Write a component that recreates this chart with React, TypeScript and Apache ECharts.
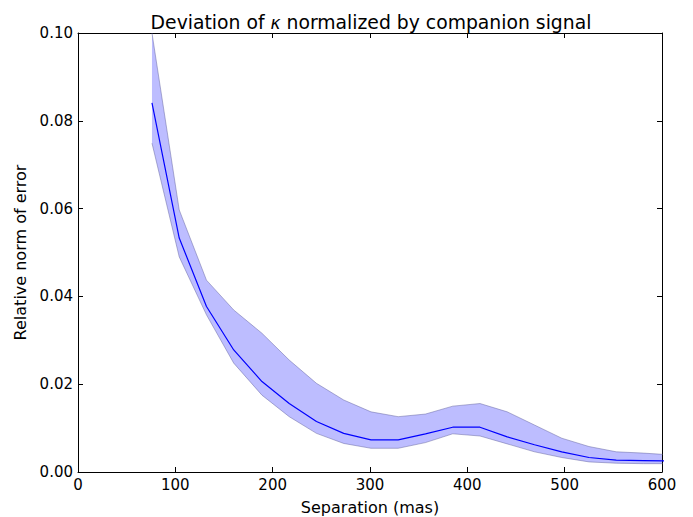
import React, { useEffect, useRef } from "react";
import * as echarts from "echarts";

const separation = [76, 104, 132, 160, 189, 217, 245, 273, 301, 329, 357, 385, 413, 441, 469, 497, 525, 553, 581, 609];
const meanError = [0.0841, 0.0533, 0.0377, 0.0278, 0.0206, 0.0156, 0.0115, 0.0088, 0.0073, 0.0073, 0.0087, 0.0102, 0.0102, 0.008, 0.0062, 0.0046, 0.0033, 0.0027, 0.0026, 0.0025];
const upperError = [0.1, 0.0597, 0.0437, 0.0369, 0.0316, 0.0255, 0.0202, 0.0164, 0.0137, 0.0126, 0.0132, 0.015, 0.0156, 0.0137, 0.0107, 0.0077, 0.0058, 0.0046, 0.0043, 0.0039];
const lowerError = [0.0749, 0.049, 0.0358, 0.0248, 0.0175, 0.0126, 0.0088, 0.0065, 0.0054, 0.0054, 0.0067, 0.0087, 0.0082, 0.0064, 0.0046, 0.0033, 0.0023, 0.002, 0.0019, 0.0019];
const xTicks = [0, 100, 200, 300, 400, 500, 600];
const yTicks = [0.0, 0.02, 0.04, 0.06, 0.08, 0.1];

const FONT = "DejaVu Sans";

export default function App() {
  const ref = useRef<HTMLDivElement>(null);
  useEffect(() => {
    if (!ref.current) return;
    const chart = echarts.init(ref.current, null, { renderer: "svg" });
    const lowerData = separation.map((x, i) => [x, lowerError[i]]);
    const upperData = separation.map((x, i) => [x, upperError[i]]);
    const meanData = separation.map((x, i) => [x, meanError[i]]);
    const axisCommon = {
      axisLine: { show: true, onZero: false, lineStyle: { color: "#000", width: 1 } },
      axisTick: { show: true, inside: true, length: 5, lineStyle: { color: "#000", width: 1 } },
      splitLine: { show: false },
    };
    const tickStyle = { color: "#000", fontFamily: FONT, fontSize: 15 };
    const nameStyle = { color: "#000", fontFamily: FONT, fontSize: 16 };
    const edgeStyle = { color: "rgba(90,90,150,0.45)", width: 1 };
    chart.setOption({
      animation: false,
      backgroundColor: "#fff",
      title: {
        text: "Deviation of {k|κ} normalized by companion signal",
        left: 366,
        textAlign: "center",
        top: 8,
        textStyle: {
          fontFamily: FONT,
          fontSize: 18.8,
          fontWeight: "normal",
          color: "#000",
          rich: { k: { fontFamily: FONT, fontSize: 17, fontStyle: "italic", color: "#000" } },
        },
      },
      grid: { left: 78, right: 31, top: 33, bottom: 45, containLabel: false, outerBoundsMode: "none" },
      xAxis: [
        {
          type: "value",
          min: xTicks[0],
          max: xTicks[xTicks.length - 1],
          interval: 100,
          position: "bottom",
          name: "Separation (mas)",
          nameLocation: "middle",
          nameGap: 27,
          nameTextStyle: nameStyle,
          axisLabel: { ...tickStyle, margin: 5 },
          ...axisCommon,
        },
        {
          type: "value",
          min: xTicks[0],
          max: xTicks[xTicks.length - 1],
          interval: 100,
          position: "top",
          axisLabel: { show: false },
          ...axisCommon,
        },
      ],
      yAxis: [
        {
          type: "value",
          min: yTicks[0],
          max: yTicks[yTicks.length - 1],
          interval: 0.02,
          position: "left",
          name: "Relative norm of error",
          nameLocation: "middle",
          nameGap: 49,
          nameTextStyle: nameStyle,
          axisLabel: { ...tickStyle, margin: 5, formatter: (v: number) => v.toFixed(2) },
          ...axisCommon,
        },
        {
          type: "value",
          min: yTicks[0],
          max: yTicks[yTicks.length - 1],
          interval: 0.02,
          position: "right",
          axisLabel: { show: false },
          ...axisCommon,
        },
      ],
      series: [
        {
          type: "custom",
          data: [0],
          z: 1,
          silent: true,
          renderItem: (params: any, api: any) => {
            const pts: number[][] = [];
            for (let i = 0; i < separation.length; i++) pts.push(api.coord([separation[i], upperError[i]]));
            for (let i = separation.length - 1; i >= 0; i--) pts.push(api.coord([separation[i], lowerError[i]]));
            const cs = params.coordSys;
            return {
              type: "polygon",
              shape: { points: pts },
              style: { fill: "rgba(0,0,255,0.26)", stroke: "none" },
              clipPath: { type: "rect", shape: { x: cs.x, y: cs.y, width: cs.width, height: cs.height } },
            };
          },
        },
        {
          type: "line",
          data: lowerData,
          symbol: "none",
          lineStyle: edgeStyle,
          clip: true,
          z: 2,
        },
        {
          type: "line",
          data: upperData,
          symbol: "none",
          lineStyle: edgeStyle,
          clip: true,
          z: 2,
        },
        {
          type: "line",
          data: meanData,
          symbol: "none",
          lineStyle: { color: "#0000ff", width: 1.2 },
          clip: true,
          z: 3,
        },
      ],
    });
    return () => chart.dispose();
  }, []);
  return <div ref={ref} style={{ width: 693, height: 517, position: "absolute", left: 0, top: 0 }} />;
}
